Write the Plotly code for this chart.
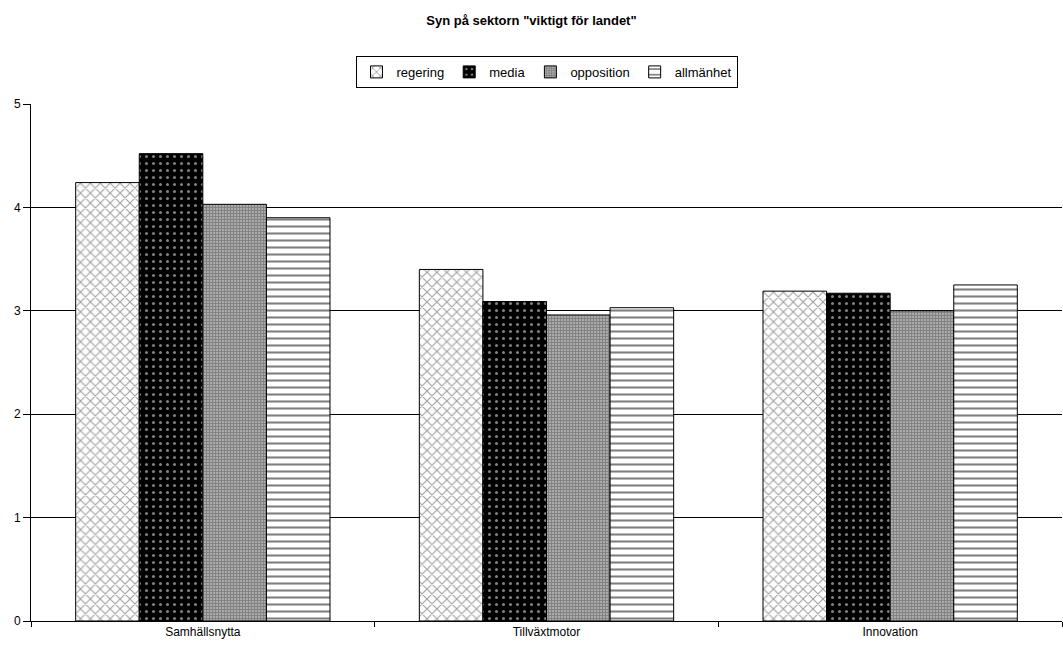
import plotly.graph_objects as go

categories = ["Samhällsnytta", "Tillväxtmotor", "Innovation"]
regering = [4.24, 3.40, 3.19]
media = [4.52, 3.09, 3.17]
opposition = [4.03, 2.96, 3.00]
allmanhet = [3.90, 3.03, 3.25]

series = [
    ("regering", regering, dict(shape="x", fgcolor="#444444", bgcolor="white", size=7, solidity=0.3)),
    ("media", media, dict(shape=".", fgcolor="white", bgcolor="black", size=7, solidity=0.15)),
    ("opposition", opposition, dict(shape="+", fgcolor="#555555", bgcolor="#aaaaaa", size=3, solidity=0.5)),
    ("allmänhet", allmanhet, dict(shape="-", fgcolor="black", bgcolor="white", size=7, solidity=0.3)),
]

fig = go.Figure()
for name, vals, pat in series:
    fig.add_trace(go.Bar(
        name=name, x=categories, y=vals,
        marker=dict(color="white", pattern=pat, line=dict(color="black", width=1)),
    ))

fig.update_layout(
    width=1063, height=648,
    paper_bgcolor="white", plot_bgcolor="white",
    font=dict(family="Liberation Sans, Arial, sans-serif", size=12, color="black"),
    title=dict(text="<b>Syn på sektorn \"viktigt för landet\"</b>", x=0.5, xanchor="center",
               y=0.968, yanchor="middle", font=dict(size=13)),
    barmode="group", bargap=0.26, bargroupgap=0,
    margin=dict(l=31, r=1, t=104, b=27),
    legend=dict(orientation="h", x=0.5, xanchor="center", y=1.062, yanchor="middle",
                bordercolor="black", borderwidth=1, font=dict(size=13),
                itemwidth=30, tracegroupgap=0),
    showlegend=True,
)
fig.update_yaxes(range=[0, 5], dtick=1, showgrid=True, gridcolor="black", gridwidth=1,
                 showline=True, linecolor="black", ticks="outside", ticklen=7,
                 tickcolor="black", zeroline=False, tickfont=dict(size=12))
fig.update_xaxes(showline=True, linecolor="black", ticks="outside", tickson="boundaries",
                 ticklen=5, tickcolor="black", tickfont=dict(size=12))

fig.write_html("out.html")
